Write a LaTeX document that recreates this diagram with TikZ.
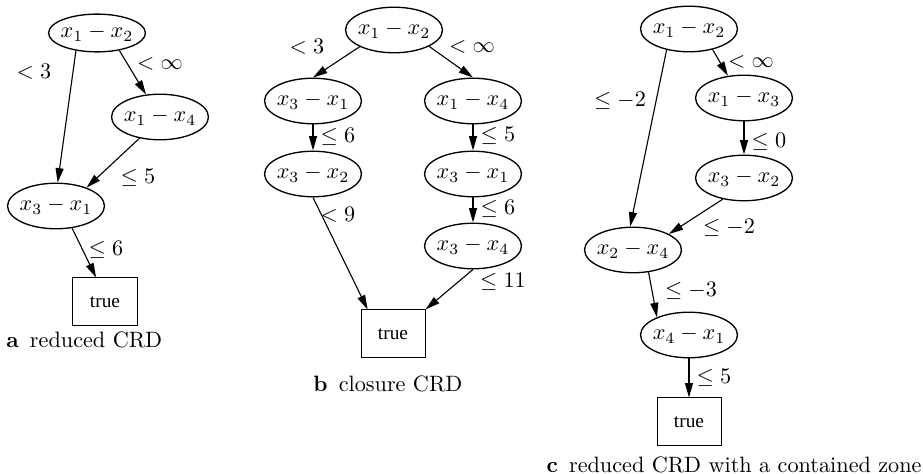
\documentclass[tikz,border=0pt]{standalone}
\usepackage{fontspec}
\newfontfamily\timesf{Liberation Serif}
\usetikzlibrary{shapes.geometric,arrows.meta}
\begin{document}
\begin{tikzpicture}[x=0.45pt,y=-0.45pt,
  st/.style={draw,ellipse,line width=0.6pt,minimum width=43.6pt,minimum height=20.5pt,inner xsep=-2pt,inner ysep=0pt},
  tb/.style={draw,rectangle,line width=0.45pt,minimum width=28.8pt,minimum height=21.6pt,inner sep=0pt,font=\timesf\fontsize{8.7}{10}\selectfont},
  ar/.style={line width=0.5pt,-{Triangle[length=6.5pt,width=3.6pt]}},
  lb/.style={inner sep=0pt},
  captext/.style={inner sep=0pt,anchor=west}]
\useasboundingbox (0,0) rectangle (923,474);
% panel a
\node[st,minimum height=17pt] (a12) at (97,33) {$x_1-x_2$};
\node[st] (a14) at (160,117) {$x_1-x_4$};
\node[st] (a31) at (56,206) {$x_3-x_1$};
\node[tb] (at) at (105,302) {true};
\draw[ar] (a12.220) -- (a31.86);
\draw[ar] (a12.-38) -- (a14.122);
\draw[ar] (a14.226) -- (a31.31);
\draw[ar] (a31.-54) -- (at.110);
\node[lb] (la1) at (34,72) {$<3$};
\node[lb] (la2) at (160,64) {$<\infty$};
\node[lb] (la3) at (138,178) {$\le 5$};
\node[lb] (la4) at (106,250) {$\le 6$};
\node[captext] (capa) at (6,340) {\textbf{a}\enspace reduced CRD};
% panel b
\node[st] (b12) at (394,30) {$x_1-x_2$};
\node[st] (bL1) at (313,101) {$x_3-x_1$};
\node[st] (bR1) at (473,101) {$x_1-x_4$};
\node[st] (bL2) at (313,174) {$x_3-x_2$};
\node[st] (bR2) at (473,174) {$x_3-x_1$};
\node[st] (bR3) at (473,246) {$x_3-x_4$};
\node[tb] (bt) at (393,334) {true};
\draw[ar] (b12.206) -- (bL1.north);
\draw[ar] (b12.-25) -- (bR1.north);
\draw[ar] (bL1) -- (bL2);
\draw[ar] (bR1) -- (bR2);
\draw[ar] (bR2) -- (bR3);
\draw[ar] (bL2.south) -- (bt.136);
\draw[ar] (bR3.south) -- (bt.north east);
\node[lb] (lb1) at (307,47) {$<3$};
\node[lb] (lb2) at (472,47) {$<\infty$};
\node[lb] (lb3) at (338,137) {$\le 6$};
\node[lb] (lb4) at (498,136) {$\le 5$};
\node[lb] (lb5) at (498,209) {$\le 6$};
\node[lb] (lb6) at (338,215) {$<9$};
\node[lb] (lb7) at (503,282) {$\le 11$};
\node[captext] (capb) at (313,384) {\textbf{b}\enspace closure CRD};
% panel c
\node[st] (c12) at (689,29) {$x_1-x_2$};
\node[st] (c13) at (744,98) {$x_1-x_3$};
\node[st] (c32) at (744,178) {$x_3-x_2$};
\node[st] (c24) at (633,250) {$x_2-x_4$};
\node[st] (c41) at (689,335) {$x_4-x_1$};
\node[tb] (ct) at (689,422) {true};
\draw[ar] (c12.223) -- (c24.97);
\draw[ar] (c12.-41) -- (c13.126);
\draw[ar] (c13) -- (c32);
\draw[ar] (c32.225) -- (c24.24);
\draw[ar] (c24.-55) -- (c41.151);
\draw[ar] (c41) -- (ct);
\node[lb] (lc1) at (620,101) {$\le -2$};
\node[lb] (lc2) at (751,62) {$<\infty$};
\node[lb] (lc3) at (769,142) {$\le 0$};
\node[lb] (lc4) at (729,228) {$\le -2$};
\node[lb] (lc5) at (691,291) {$\le -3$};
\node[lb] (lc6) at (714,378) {$\le 5$};
\node[inner sep=0pt,anchor=east] (capc) at (922,465) {\textbf{c}\enspace reduced CRD with a contained zone};
\end{tikzpicture}
\end{document}
